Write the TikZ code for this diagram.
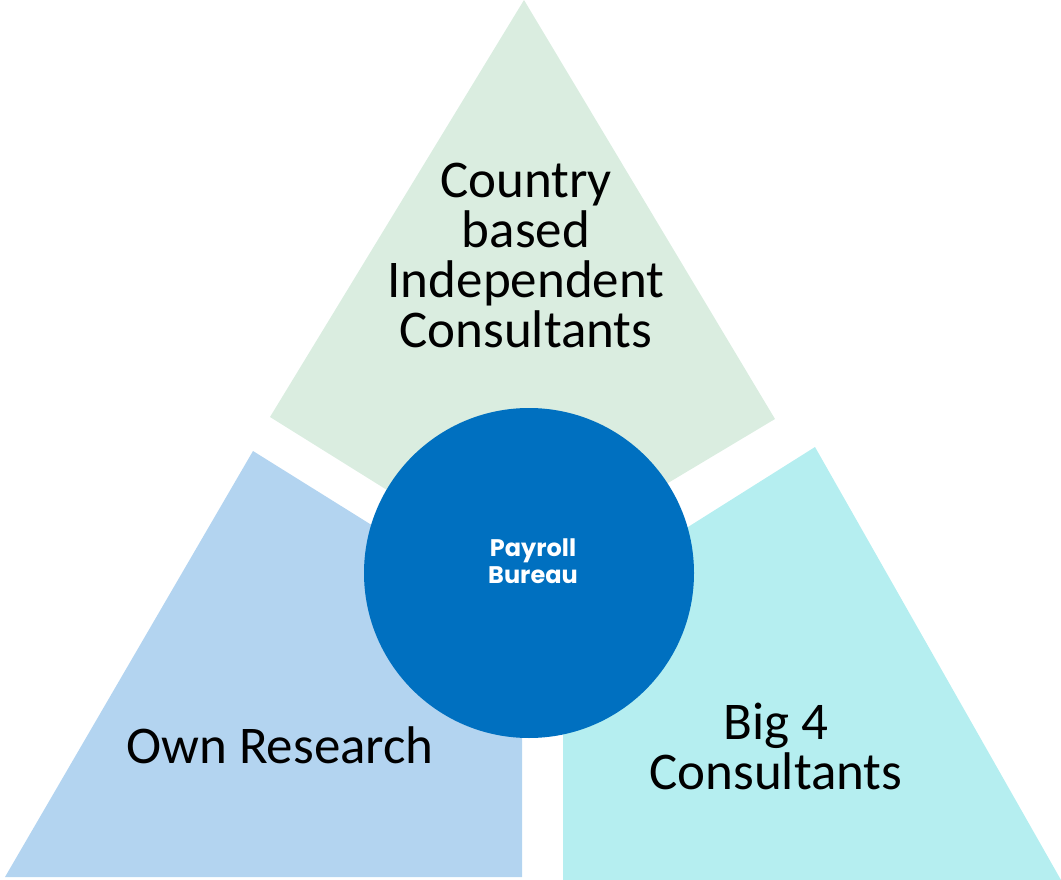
\documentclass[tikz,border=0pt]{standalone}
\usepackage{fontspec}
\setmainfont{Carlito}
\newfontfamily\hubfont{Poppins}
\usepackage{tikz}

\definecolor{topgreen}{HTML}{DAEDE0}
\definecolor{leftblue}{HTML}{B3D4F0}
\definecolor{rightcyan}{HTML}{B5EEF0}
\definecolor{hubblue}{HTML}{0070C0}

\begin{document}
\begin{tikzpicture}
[x=1pt,y=-1pt,
	 hub/.style={circle,fill=hubblue,minimum size=330pt,inner sep=0pt},
	 hubtext/.style={align=center,text=white,inner sep=0pt,font=\hubfont\bfseries\fontsize{24}{27}\selectfont},
	 label/.style={align=center,text=black,inner sep=0pt,font=\fontsize{53}{50}\selectfont}];
\useasboundingbox (0,0) rectangle (1061,880);

\fill[topgreen] (524,0) -- (775,419) -- (668,483) -- (529,573) -- (387,490) -- (270,417) -- cycle;
\fill[leftblue] (253,451) -- (370,524) -- (529,573) -- (522,735) -- (522,877) -- (5,877) -- cycle;
\fill[rightcyan] (815,447) -- (688,527) -- (529,573) -- (563,733) -- (563,880) -- (1061,880) -- cycle;

\node[hub] (bureau) at (529,573) {};
\node[hubtext] (bureautext) at (533,561) {Payroll\\Bureau};

\node[label] (country) at (526,255) {Country\\based\\Independent\\Consultants};
\node[label] (research) at (280,745) {Own Research};
\node[label] (bigfour) at (776,746) {Big 4\\Consultants};

\end{tikzpicture}
\end{document}
